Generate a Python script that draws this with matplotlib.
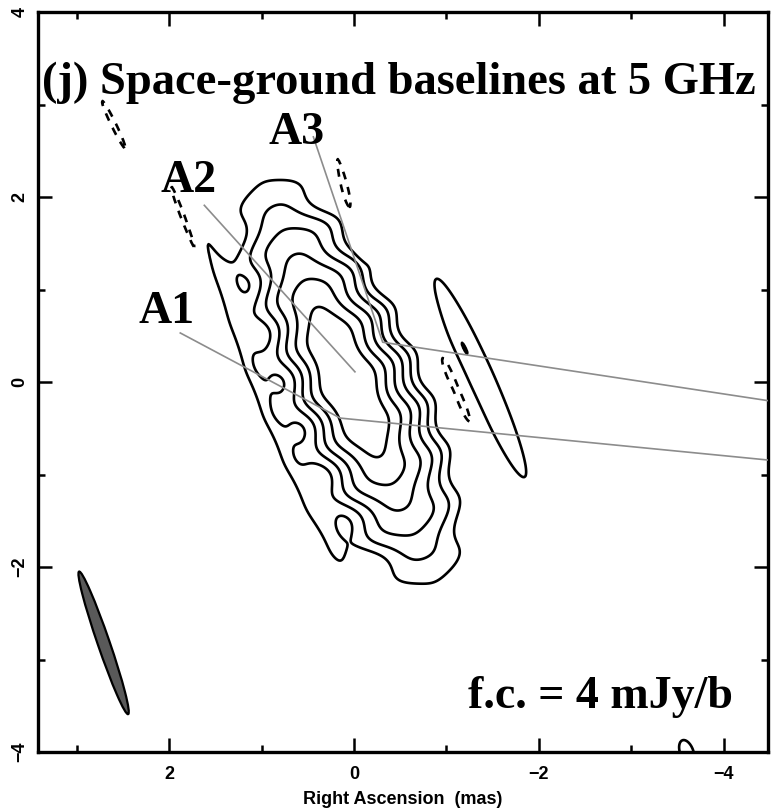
import numpy as np
import matplotlib
matplotlib.use("Agg")
import matplotlib.pyplot as plt
from matplotlib.patches import Ellipse

# ---- image model (RA / Dec offsets in mas, brightness in mJy/beam) ----
core_ra, core_dec = 0.07, 0.0
core_peak = 2200.0
core_scale_major = 0.385
core_scale_minor = 0.122
core_softening = 3.0
core_pa = 23.0            # deg, east of north
ripple_period = 0.55      # mas, along the jet axis
ripple_depth = 0.45

# extra Gaussian components: jet body, sidelobe stripes, negative holes, islands
comp_ra = [-0.30, 0.93, -1.37, -1.12, -1.10, 2.60, 1.81, 0.095, -3.60]
comp_dec = [-0.10, -0.12, 0.04, 0.45, -0.05, 2.78, 1.69, 2.07, -4.00]
comp_flux = [8.0, 6.4, 7.4, 1.6, -5.6, -4.6, -7.0, -5.5, 6.0]
comp_major = [0.90, 1.75, 1.05, 0.25, 0.70, 0.55, 0.80, 0.50, 0.15]   # sigma
comp_minor = [0.22, 0.127, 0.13, 0.06, 0.08, 0.05, 0.05, 0.05, 0.08]  # sigma
comp_pa = [23.0, 23.0, 24.0, 24.0, 23.0, 26.0, 21.0, 14.0, 20.0]

first_contour = 4.0
level_factors = [-1, 1, 2, 4, 8, 16, 32]

beam_ra, beam_dec = 2.71, -2.82
beam_major, beam_minor, beam_pa = 1.63, 0.13, 19.0

xlim = (3.42, -4.48)
ylim = (-4.0, 4.0)

# ---- build the brightness grid ----
ra = np.linspace(xlim[0], xlim[1], 600)
dec = np.linspace(ylim[0], ylim[1], 600)
X, Y = np.meshgrid(ra, dec)


def rotate(dx, dy, pa_deg):
    t = np.deg2rad(pa_deg)
    u = dx * np.sin(t) + dy * np.cos(t)
    v = dx * np.cos(t) - dy * np.sin(t)
    return u, v


u, v = rotate(X - core_ra, Y - core_dec, core_pa)
q = (v / core_scale_minor) ** 2
r = np.sqrt((u / core_scale_major) ** 2 + q + core_softening)
edge = q / (q + 9.0)
img = core_peak * np.exp(-r + ripple_depth * np.cos(2 * np.pi * u / ripple_period) * edge)

for cx, cy, f, smaj, smin, pa in zip(comp_ra, comp_dec, comp_flux,
                                     comp_major, comp_minor, comp_pa):
    cu, cv = rotate(X - cx, Y - cy, pa)
    img += f * np.exp(-0.5 * ((cu / smaj) ** 2 + (cv / smin) ** 2))

levels = sorted(first_contour * f for f in level_factors)

# ---- figure ----
fig = plt.figure(figsize=(7.73, 8.11), dpi=100)
ax = fig.add_axes([38 / 773, 59 / 811, 730 / 773, 740 / 811])

neg = [l for l in levels if l < 0]
pos = [l for l in levels if l > 0]
ax.contour(X, Y, img, levels=pos, colors="black", linewidths=1.9)
cn = ax.contour(X, Y, img, levels=neg, colors="black", linewidths=1.9,
                linestyles="dashed")
cn.set_linestyle((0, (3, 3)))

# restoring beam
ax.add_patch(Ellipse((beam_ra, beam_dec), beam_major, beam_minor,
                     angle=90 - beam_pa, facecolor="#595959",
                     edgecolor="black", linewidth=1.6, zorder=3))

# component pointers
serif = ["Liberation Serif", "DejaVu Serif"]
pointer_color = "#8c8c8c"
pointers = {
    "A1": ([1.88, 0.15, -4.7], [0.53, -0.39, -0.865]),
    "A2": ([1.62, -0.01], [1.91, 0.11]),
    "A3": ([0.44, -0.31, -4.7], [2.65, 0.43, -0.235]),
}
label_xy = {"A1": (2.03, 0.76), "A2": (1.79, 2.17), "A3": (0.62, 2.69)}
for name, (px, py) in pointers.items():
    ax.plot(px, py, color=pointer_color, lw=1.2, zorder=4, clip_on=True)
    ax.text(*label_xy[name], name, family=serif, weight="bold", fontsize=33,
            ha="center", va="center", zorder=5)

ax.text(3.38, 3.24, "(j) Space-ground baselines at 5 GHz", family=serif,
        weight="bold", fontsize=33.5, ha="left", va="center", zorder=5)
ax.text(-2.67, -3.41, "f.c. = 4 mJy/b", family=serif, weight="bold",
        fontsize=33, ha="center", va="center", zorder=5)

ax.set_xlim(*xlim)
ax.set_ylim(*ylim)
ax.set_xticks([2, 0, -2, -4])
ax.set_yticks([-4, -2, 0, 2, 4])
ax.set_xticks([3, 1, -1, -3], minor=True)
ax.set_yticks([-3, -1, 1, 3], minor=True)

sans = ["Liberation Sans", "DejaVu Sans"]
ax.tick_params(which="both", direction="in", top=True, right=True, width=1.8)
ax.tick_params(which="major", length=10)
ax.tick_params(which="minor", length=5)
ax.tick_params(axis="x", pad=10)
ax.tick_params(axis="y", pad=7)
for lab in ax.get_xticklabels():
    lab.set_family(sans)
    lab.set_weight("bold")
    lab.set_fontsize(13)
for lab in ax.get_yticklabels():
    lab.set_family(sans)
    lab.set_weight("bold")
    lab.set_fontsize(13)
    lab.set_rotation(90)
    lab.set_va("center")
ax.set_xlabel("Right Ascension  (mas)", family=sans, weight="bold",
              fontsize=13, labelpad=6)
for s in ax.spines.values():
    s.set_linewidth(2.4)

fig.savefig("out.png", dpi=100)
